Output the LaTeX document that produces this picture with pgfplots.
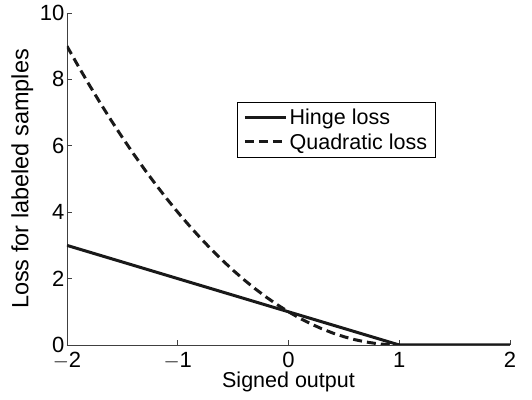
\documentclass[border=0pt]{standalone}
\usepackage{fontspec}
\setmainfont{Liberation Sans}
\usepackage{pgfplots}
\pgfplotsset{compat=1.18}
\begin{document}
\begin{tikzpicture}
\begin{axis}[
  scale only axis,
  width=443pt, height=332pt,
  xmin=-2, xmax=2, ymin=0, ymax=10,
  axis x line=bottom, axis y line=left,
  axis line style={-, black!75, line width=0.8pt},
  xtick={-2,-1,0,1,2}, ytick={0,2,4,6,8,10},
  xticklabels={$-$2,$-$1,0,1,2},
  tick style={black!75, line width=0.8pt},
  tick align=inside, major tick length=5pt,
  /pgf/number format/assume math mode=true,
  tick label style={font=\fontsize{22}{24}\selectfont},
  xlabel style={font=\fontsize{21.5}{24}\selectfont},
  ylabel style={font=\fontsize{23.5}{25}\selectfont},
  xlabel={Signed output},
  ylabel={Loss for labeled samples},
  xticklabel style={yshift=-3.5pt},
  yticklabel style={xshift=1pt},
  xlabel shift=-4pt,
  ylabel shift=0pt,
  legend style={at={(axis cs:-0.465,7.32)}, anchor=north west,
    font=\fontsize{21.5}{26}\selectfont, draw=black, line width=0.8pt,
    inner xsep=6pt, inner ysep=5pt, row sep=3pt},
  legend cell align=left,
  legend image code/.code={\draw[#1] (0cm,0cm) -- (1.45cm,0cm);},
]
\addplot[black!90, line width=3pt] coordinates {(-2,3) (1,0) (2,0)};
\addlegendentry{Hinge loss}
\addplot[black!90, line width=3pt, dash pattern=on 9pt off 5pt] coordinates {
(-2,9) (-1.9,8.41) (-1.8,7.84) (-1.7,7.29) (-1.6,6.76) (-1.5,6.25)
(-1.4,5.76) (-1.3,5.29) (-1.2,4.84) (-1.1,4.41) (-1,4) (-0.9,3.61)
(-0.8,3.24) (-0.7,2.89) (-0.6,2.56) (-0.5,2.25) (-0.4,1.96) (-0.3,1.69)
(-0.2,1.44) (-0.1,1.21) (0,1) (0.1,0.81) (0.2,0.64) (0.3,0.49)
(0.4,0.36) (0.5,0.25) (0.6,0.16) (0.7,0.09) (0.8,0.04) (0.9,0.01) (1,0)};
\addlegendentry{Quadratic loss}
\coordinate (bl) at (rel axis cs:0,0);
\coordinate (tr) at (rel axis cs:1,1);
\end{axis}
\pgfresetboundingbox
\path ([shift={(-67pt,-55pt)}]bl) rectangle ([shift={(22pt,13pt)}]tr);
\end{tikzpicture}
\end{document}
